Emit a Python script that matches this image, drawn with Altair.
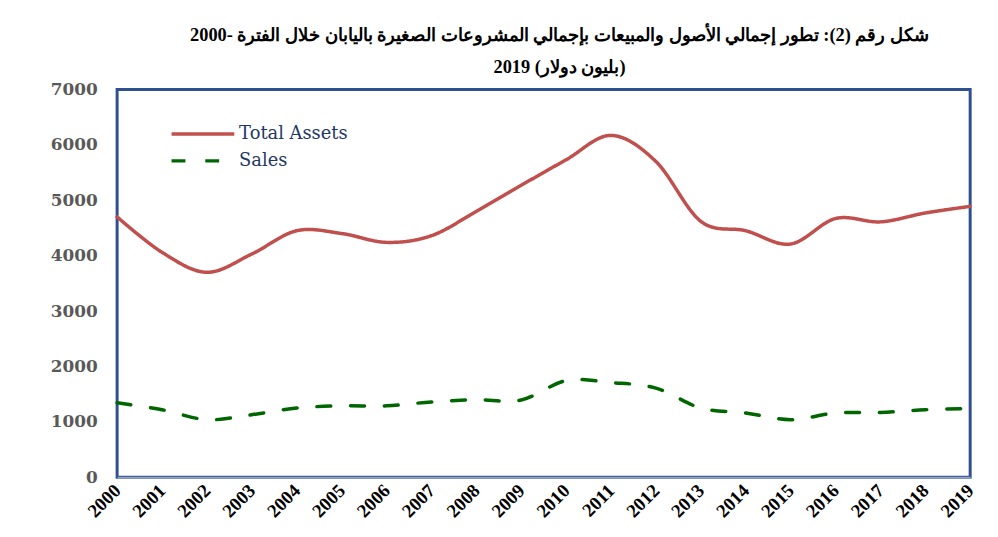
import altair as alt
import pandas as pd

years = [str(y) for y in range(2000, 2020)]
total_assets = [4700, 4060, 3700, 4030, 4450, 4400, 4240, 4360, 4800, 5270,
                5730, 6170, 5700, 4620, 4450, 4210, 4670, 4610, 4770, 4890]
sales = [1345, 1220, 1040, 1130, 1250, 1290, 1290, 1360, 1400, 1395,
         1745, 1710, 1610, 1250, 1160, 1040, 1160, 1170, 1220, 1240]
series_names = ["Total Assets", "Sales"]
y_ticks = [0, 1000, 2000, 3000, 4000, 5000, 6000, 7000]

title_lines = [
    "\u200fشكل رقم (2): تطور إجمالي الأصول والمبيعات بإجمالي المشروعات الصغيرة باليابان خلال الفترة -2000",
    "\u200e2019 (بليون دولار)",
]

df = pd.DataFrame({
    "year": years * 2,
    "value": total_assets + sales,
    "series": [series_names[0]] * len(years) + [series_names[1]] * len(years),
})

legend_cfg = dict(
    title=None, orient="none", legendX=53, legendY=35,
    symbolType="stroke", symbolSize=4000, symbolStrokeWidth=3.5,
    clipHeight=20, rowPadding=7,
    labelFont="DejaVu Serif", labelFontSize=18, labelColor="#1F3864",
    labelOffset=3,
)

chart = alt.Chart(df).mark_line(strokeWidth=3.5, interpolate="cardinal", strokeCap="round").encode(
    x=alt.X("year:O", sort=years, scale=alt.Scale(type="point", padding=0),
            axis=alt.Axis(title=None, labelAngle=315, labelAlign="right", labelBaseline="middle",
                          labelFont="Liberation Serif",
                          labelFontSize=19, labelFontWeight="bold", labelColor="#000000",
                          ticks=False, domainColor="#8EA0BC", domainWidth=2, labelPadding=10,
                          zindex=1)),
    y=alt.Y("value:Q", scale=alt.Scale(domain=[0, 7000]),
            axis=alt.Axis(title=None, values=y_ticks, format="d", grid=False, ticks=False,
                          labelFont="DejaVu Serif", labelFontSize=17, labelFontWeight="bold",
                          labelColor="#595959", labelPadding=20, domain=False)),
    color=alt.Color("series:N", scale=alt.Scale(domain=series_names, range=["#C0504D", "#006600"]),
                    legend=alt.Legend(**legend_cfg)),
    strokeDash=alt.StrokeDash("series:N", scale=alt.Scale(domain=series_names, range=[[1, 0], [14, 20]]),
                              legend=alt.Legend(**legend_cfg)),
).properties(
    width=860, height=391,
    padding={"left": 42, "top": 16, "right": 12, "bottom": 5},
    title=alt.TitleParams(text=title_lines, font="Liberation Serif", fontSize=18.5, fontWeight="bold",
                          color="#000000", anchor="middle", dx=16, lineHeight=32, offset=4),
).configure_view(stroke="#2E5090", strokeWidth=3)

chart.save("out.html", embed_options={"renderer": "svg", "actions": False})
